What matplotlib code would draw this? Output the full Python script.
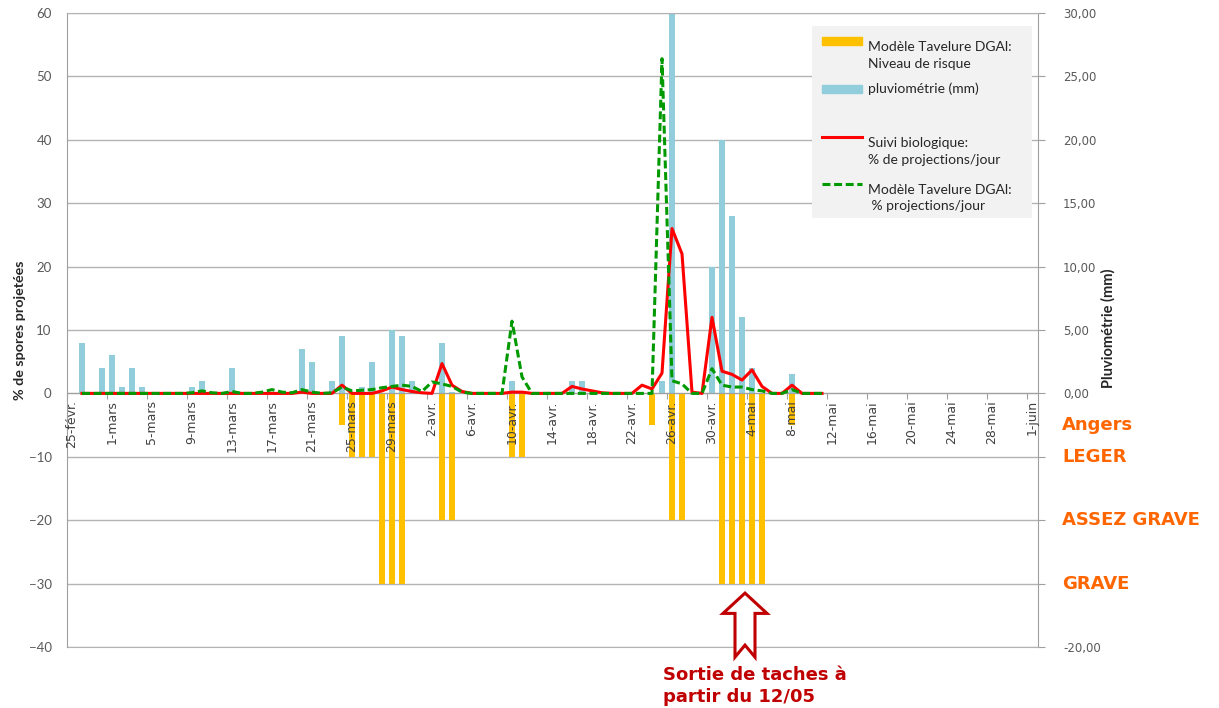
import numpy as np
import matplotlib
matplotlib.use('Agg')
import matplotlib.pyplot as plt
import matplotlib.transforms as mtransforms
from matplotlib.patches import Polygon, Rectangle
from matplotlib.ticker import FuncFormatter, MultipleLocator

# =========================
# Data : one value per day, 26-févr. (day 1) .. 11-mai (day 75)
# day 0 = 25-févr.
# =========================
days = np.arange(1, 76)

# pluviométrie (mm) - right axis
rain = [
    4.0, 0, 2.0, 3.0, 0.5, 2.0, 0.5, 0, 0, 0,          # d1-10
    0, 0.5, 1.0, 0, 0, 2.0, 0, 0, 0, 0,                # d11-20
    0, 0, 3.5, 2.5, 0, 1.0, 4.5, 0, 0.5, 2.5,          # d21-30
    0, 5.0, 4.5, 1.0, 0, 0, 4.0, 0.1, 0, 0,            # d31-40
    0, 0, 0, 1.0, 0, 0, 0, 0, 0, 1.0,                  # d41-50
    1.0, 0, 0, 0, 0, 0, 0, 0, 1.0, 30.0,               # d51-60
    0, 0, 0, 10.0, 20.0, 14.0, 6.0, 2.0, 0, 0,         # d61-70
    0, 1.5, 0, 0, 0,                                   # d71-75
]

# Modèle Tavelure DGAl : niveau de risque (-5 Angers, -10 léger, -20 assez grave, -30 grave)
risk = [
    0, 0, 0, 0, 0, 0, 0, 0, 0, 0,
    0, 0, 0, 0, 0, 0, 0, 0, 0, 0,
    0, 0, 0, 0, 0, 0, -5, -10, -10, -10,
    -30, -30, -30, 0, 0, 0, -20, -20, 0, 0,
    0, 0, 0, -10, -10, 0, 0, 0, 0, 0,
    0, 0, 0, 0, 0, 0, 0, -5, 0, -20,
    -20, 0, 0, 0, -30, -30, -30, -30, -30, 0,
    0, -5, 0, 0, 0,
]

# Suivi biologique : % de projections / jour
suivi = [
    0, 0, 0, 0, 0, 0, 0, 0, 0, 0,
    0, 0, 0, 0, 0, 0, 0, 0, 0, 0,
    0, 0, 0.2, 0, 0, 0, 1.3, 0, 0, 0,
    0.4, 1.0, 0.6, 0.3, 0.1, 0, 4.7, 1.3, 0.3, 0,
    0, 0, 0, 0.2, 0.2, 0, 0, 0, 0, 1.1,
    0.7, 0.4, 0.1, 0, 0, 0, 1.3, 0.7, 3.2, 26.0,
    22.0, 0.2, 0, 12.0, 3.5, 3.0, 2.1, 3.7, 1.1, 0,
    0, 1.3, 0, 0, 0,
]

# Modèle Tavelure DGAl : % projections / jour
modele = [
    0, 0, 0, 0, 0, 0, 0, 0, 0, 0,
    0, 0.1, 0.4, 0.1, 0, 0.3, 0, 0, 0.2, 0.6,
    0.2, 0.1, 0.6, 0.2, 0, 0.1, 1.0, 0.4, 0.5, 0.6,
    0.9, 1.1, 1.3, 1.1, 0.3, 1.8, 1.5, 1.1, 0.2, 0,
    0, 0, 0, 11.4, 2.6, 0, 0, 0, 0, 0,
    0, 0, 0, 0, 0, 0, 0, 0, 52.8, 2.0,
    1.5, 0, 0, 3.9, 1.3, 1.0, 1.0, 0.6, 0.4, 0,
    0, 0.6, 0, 0, 0,
]

date_labels = ["25-févr.", "1-mars", "5-mars", "9-mars", "13-mars", "17-mars",
               "21-mars", "25-mars", "29-mars", "2-avr.", "6-avr.", "10-avr.",
               "14-avr.", "18-avr.", "22-avr.", "26-avr.", "30-avr.", "4-mai",
               "8-mai", "12-mai", "16-mai", "20-mai", "24-mai", "28-mai", "1-juin"]

risk_levels = [(-5, "Angers"), (-10, "LEGER"), (-20, "ASSEZ GRAVE"), (-30, "GRAVE")]

# =========================
# Style
# =========================
BLUE = '#92CDDC'
ORANGE = '#FFC000'
RED = '#FF0000'
GREEN = '#009900'
GRID = '#B3B3B3'
AXIS = '#A0A0A0'
TICK_TXT = '#595959'
TXT_ORANGE = '#FF6600'
DARK_RED = '#C00000'
DASHES = (2.6, 1.2)

plt.rcParams['font.family'] = ['DejaVu Sans']

W, H = 1219, 708
fig = plt.figure(figsize=(W / 100, H / 100), dpi=100)
ax = fig.add_axes([67 / W, 1 - 647 / H, 971 / W, 634 / H])
ax2 = ax.twinx()
ax.set_zorder(2)
ax2.set_zorder(1)
ax.patch.set_visible(False)

x = days + 0.5


def rain_fmt(v, p):
    # the right axis only labels the positive values and its bottom
    if -20 < v < 0:
        return ""
    return f"{v:.2f}".replace('.', ',')


# rain bars + grid on the right axis (drawn below everything else)
ax2.bar(x, rain, width=0.67, color=BLUE, zorder=2)
ax2.set_ylim(-20, 30)
ax2.yaxis.set_major_locator(MultipleLocator(5))
ax2.yaxis.set_major_formatter(FuncFormatter(rain_fmt))
ax2.grid(axis='y', color=GRID, lw=1, zorder=0)
ax2.set_axisbelow(True)
ax2.tick_params(axis='y', length=5, color=AXIS, pad=13, labelsize=8.5, labelcolor=TICK_TXT)
for s in ['left', 'top']:
    ax2.spines[s].set_visible(False)
ax2.spines['right'].set_color(AXIS)
ax2.spines['bottom'].set_color(GRID)

# risk bars + lines on the left axis
ax.set_axisbelow(False)
ax.bar(x, risk, width=0.67, color=ORANGE, zorder=2)
ax.plot(x, suivi, color=RED, lw=2.2, zorder=3)
ax.plot(x, modele, color=GREEN, lw=2.2, dashes=DASHES, zorder=4)

ax.set_xlim(0, 97.1)
ax.set_ylim(-40, 60)
ax.set_yticks(range(-40, 61, 10))
ax.tick_params(axis='y', length=0, pad=11, labelsize=9.5, labelcolor=TICK_TXT)
for lab in ax.get_yticklabels():
    lab.set_fontfamily('Lato')

ax.spines['bottom'].set_position(('data', 0))
ax.spines['bottom'].set_color(AXIS)
ax.spines['left'].set_color(AXIS)
ax.spines['top'].set_color(GRID)
ax.spines['right'].set_visible(False)

tick_pos = np.arange(0, 97, 4)
ax.set_xticks(tick_pos)
ax.set_xticklabels([])
ax.tick_params(axis='x', which='major', length=4, color=AXIS)
ax.set_xticks(tick_pos + 0.5, labels=date_labels, minor=True)
ax.tick_params(axis='x', which='minor', length=0, pad=5, labelsize=9,
               labelcolor='#404040', labelrotation=90)

# axis titles
fig.text(20 / W, 1 - 330 / H, "% de spores projetées", rotation=90, ha='center', va='center',
         fontsize=10.3, fontweight='bold', family='Lato', color='#262626')
fig.text(1108 / W, 1 - 328 / H, "Pluviométrie (mm)", rotation=90, ha='center', va='center',
         fontsize=10.5, fontweight='bold', family='Lato', color='#262626')

# risk level names at the right
trans = mtransforms.blended_transform_factory(ax.transAxes, ax.transData)
for val, name in risk_levels:
    ax.text(1.0247, val, name, transform=trans, ha='left', va='center', fontsize=13,
            fontweight='bold', color=TXT_ORANGE, clip_on=False)

# hollow arrow pointing to the early-May risk bars
ARROW_X = 67.8
tip, head_base, notch, bottom = -31.5, -34.7, -39.7, -41.6
head_hw, shaft_hw = 2.2, 1.0
arrow = Polygon([(ARROW_X, tip), (ARROW_X + head_hw, head_base), (ARROW_X + shaft_hw, head_base),
                 (ARROW_X + shaft_hw, bottom), (ARROW_X, notch), (ARROW_X - shaft_hw, bottom),
                 (ARROW_X - shaft_hw, head_base), (ARROW_X - head_hw, head_base)],
                closed=True, facecolor='white', edgecolor=DARK_RED, lw=2.2, zorder=6, clip_on=False)
ax.add_patch(arrow)
fig.text(663 / W, 1 - 686 / H, "Sortie de taches à\npartir du 12/05", ha='left', va='center',
         fontsize=13, fontweight='bold', color=DARK_RED, linespacing=1.25)

# =========================
# Legend (grey box, symbols aligned on the first text line)
# =========================
lax = fig.add_axes([812 / W, 1 - 218 / H, 220 / W, 192 / H])
lax.set_zorder(5)
lax.set_facecolor('#F2F2F2')
lax.set_xlim(0, 220)
lax.set_ylim(192, 0)
lax.set_xticks([])
lax.set_yticks([])
for s in lax.spines.values():
    s.set_visible(False)

LEG_FS = 10
LEG_TXT = '#262626'
lax.add_patch(Rectangle((10, 11), 40, 8, color=ORANGE))
lax.text(56, 15, "Modèle Tavelure DGAl:\nNiveau de risque", va='top', ha='left', fontsize=LEG_FS,
         family='Lato', color=LEG_TXT, linespacing=1.45)
lax.add_patch(Rectangle((10, 59), 40, 8, color=BLUE))
lax.text(56, 63, "pluviométrie (mm)", va='center', ha='left', fontsize=LEG_FS,
         family='Lato', color=LEG_TXT)
lax.plot([10, 50], [111, 111], color=RED, lw=2.2)
lax.text(56, 111, "Suivi biologique:\n% de projections/jour", va='top', ha='left', fontsize=LEG_FS,
         family='Lato', color=LEG_TXT, linespacing=1.45)
lax.plot([10, 50], [158, 158], color=GREEN, lw=2.2, dashes=DASHES)
lax.text(56, 158, "Modèle Tavelure DGAl:\n % projections/jour", va='top', ha='left', fontsize=LEG_FS,
         family='Lato', color=LEG_TXT, linespacing=1.45)

fig.savefig('out.png', dpi=100)
